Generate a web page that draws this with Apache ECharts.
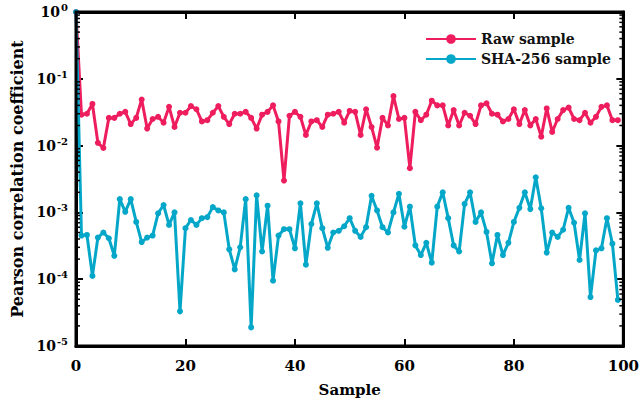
<!DOCTYPE html>
<html>
<head>
<meta charset="utf-8">
<script src="https://cdn.jsdelivr.net/npm/echarts@6/dist/echarts.min.js"></script>
<style>html,body{margin:0;padding:0;background:#fff;overflow:hidden}#c{width:642px;height:403px}</style>
</head>
<body>
<div id="c"></div>
<script>
const samples = [0,1,2,3,4,5,6,7,8,9,10,11,12,13,14,15,16,17,18,19,20,21,22,23,24,25,26,27,28,29,30,31,32,33,34,35,36,37,38,39,40,41,42,43,44,45,46,47,48,49,50,51,52,53,54,55,56,57,58,59,60,61,62,63,64,65,66,67,68,69,70,71,72,73,74,75,76,77,78,79,80,81,82,83,84,85,86,87,88,89,90,91,92,93,94,95,96,97,98,99];
const rawSample = [1,0.029,0.030,0.042,0.011,0.0092,0.026,0.026,0.030,0.032,0.021,0.026,0.049,0.018,0.025,0.027,0.022,0.038,0.019,0.031,0.031,0.039,0.035,0.023,0.024,0.031,0.039,0.027,0.021,0.030,0.030,0.032,0.026,0.018,0.029,0.032,0.040,0.023,0.0030,0.028,0.032,0.027,0.0144,0.023,0.024,0.019,0.029,0.030,0.032,0.022,0.033,0.032,0.0144,0.035,0.019,0.0093,0.026,0.020,0.055,0.025,0.026,0.0046,0.032,0.024,0.029,0.047,0.040,0.040,0.020,0.034,0.020,0.031,0.028,0.021,0.040,0.043,0.030,0.029,0.023,0.025,0.035,0.021,0.034,0.020,0.025,0.0136,0.036,0.016,0.025,0.034,0.037,0.025,0.024,0.031,0.022,0.027,0.038,0.040,0.024,0.024];
const shaSample = [1,4.5e-4,4.6e-4,1.12e-4,4.2e-4,5.0e-4,4.1e-4,2.24e-4,1.58e-3,1.02e-3,1.58e-3,7.2e-4,3.6e-4,4.2e-4,4.5e-4,9.7e-4,1.29e-3,6.5e-4,1.0e-3,3.3e-5,5.8e-4,7.7e-4,6.5e-4,8.2e-4,8.5e-4,1.2e-3,1.07e-3,1.0e-3,2.8e-4,1.4e-4,3.0e-4,1.58e-3,1.9e-5,1.8e-3,2.6e-4,1.26e-3,9.5e-5,4.5e-4,5.6e-4,5.6e-4,2.9e-4,1.37e-3,1.65e-4,6.7e-4,1.37e-3,5.8e-4,2.95e-4,5.0e-4,5.3e-4,6.2e-4,8.2e-4,5.3e-4,4.3e-4,6.0e-4,1.77e-3,1.07e-3,6.0e-4,5.0e-4,1.0e-3,1.9e-3,6.1e-4,1.22e-3,3.2e-4,2.3e-4,3.5e-4,1.77e-4,1.22e-3,2.0e-3,8.2e-4,3.2e-4,2.6e-4,1.34e-3,2.0e-3,7.2e-4,1.0e-3,5.1e-4,1.73e-4,4.6e-4,2.3e-4,3.5e-4,7.2e-4,1.17e-3,2.0e-3,1.12e-3,3.35e-3,1.15e-3,2.5e-4,5.0e-4,4.3e-4,5.5e-4,1.17e-3,7.0e-4,1.94e-4,9.7e-4,5.4e-5,2.7e-4,2.9e-4,8.2e-4,3.4e-4,4.9e-5];
const xTicks = [0,20,40,60,80,100];
const yDecades = [1e-5,1e-4,1e-3,1e-2,1e-1,1];
const minorTickValues = [2e-5,3e-5,4e-5,5e-5,6e-5,7e-5,8e-5,9e-5,2e-4,3e-4,4e-4,5e-4,6e-4,7e-4,8e-4,9e-4,2e-3,3e-3,4e-3,5e-3,6e-3,7e-3,8e-3,9e-3,2e-2,3e-2,4e-2,5e-2,6e-2,7e-2,8e-2,9e-2,0.2,0.3,0.4,0.5,0.6,0.7,0.8,0.9];
const seriesNames = ['Raw sample','SHA-256 sample'];
const colors = ['#EE1D5E','#05A7C9'];

const X_MIN = xTicks[0], X_MAX = xTicks[xTicks.length-1];
const Y_MIN = yDecades[0], Y_MAX = yDecades[yDecades.length-1];
const FONT = '"DejaVu Serif", "Liberation Serif", serif';
const AX = '#000';
const axisLineStyle = {onZero:false, lineStyle:{color:AX,width:3}};
const tickStyle = {inside:true,length:7,lineStyle:{color:AX,width:2}};

const chart = echarts.init(document.getElementById('c'), null, {renderer:'svg', width:642, height:403});
const option = {
  animation:false,
  backgroundColor:'#fff',
  grid:{left:76,right:16,top:12,bottom:57},
  legend:{
    data:seriesNames, orient:'vertical', left:420, top:27,
    itemWidth:50, itemHeight:12, itemGap:6,
    textStyle:{fontFamily:FONT,fontWeight:'bold',fontSize:14,color:'#111'}
  },
  xAxis:[{
    type:'value', min:X_MIN, max:X_MAX, interval:20,
    axisLine:axisLineStyle, axisTick:tickStyle, splitLine:{show:false},
    axisLabel:{fontFamily:FONT,fontWeight:'bold',fontSize:15,color:AX,margin:12},
    name:'Sample', nameLocation:'middle', nameGap:36,
    nameTextStyle:{fontFamily:FONT,fontWeight:'bold',fontSize:15,color:AX}
  },{
    type:'value', position:'top', min:X_MIN, max:X_MAX, interval:20,
    axisLine:axisLineStyle, axisTick:tickStyle, splitLine:{show:false},
    axisLabel:{show:false}
  }],
  yAxis:[{
    type:'log', logBase:10, min:Y_MIN, max:Y_MAX,
    axisLine:axisLineStyle, axisTick:tickStyle, splitLine:{show:false},
    axisLabel:{
      margin:8,
      formatter:function(v){return '{b|10}{s|'+Math.round(Math.log10(v))+'}';},
      rich:{
        b:{fontFamily:FONT,fontWeight:'bold',fontSize:14,color:AX},
        s:{fontFamily:FONT,fontWeight:'bold',fontSize:10,color:AX,padding:[0,0,9,1]}
      }
    },
    name:'Pearson correlation coefficient', nameLocation:'middle', nameGap:50,
    nameTextStyle:{fontFamily:FONT,fontWeight:'bold',fontSize:16,color:AX}
  },{
    type:'log', logBase:10, min:Y_MIN, max:Y_MAX, position:'right',
    axisLine:axisLineStyle, axisTick:tickStyle, splitLine:{show:false},
    axisLabel:{show:false}
  }],
  series:[{
    name:seriesNames[0], type:'line', data:samples.map((s,i)=>[s,rawSample[i]]),
    color:colors[0], symbol:'circle', symbolSize:6, showSymbol:true,
    lineStyle:{width:3}, z:3
  },{
    name:seriesNames[1], type:'line', data:samples.map((s,i)=>[s,shaSample[i]]),
    color:colors[1], symbol:'circle', symbolSize:6, showSymbol:true,
    lineStyle:{width:3}, z:4
  }]
};
chart.setOption(option);

const toPx = (x, y) => chart.convertToPixel({gridIndex:0}, [x, y]);
const tl = toPx(X_MIN, Y_MAX), br = toPx(X_MAX, Y_MIN);
const L = tl[0], T = tl[1], R = br[0], B = br[1];
const g = [];
g.push({type:'rect', shape:{x:L, y:T, width:R-L, height:B-T}, style:{fill:'none', stroke:AX, lineWidth:3}, z:100, silent:true});
minorTickValues.forEach(v => {
  const py = toPx(X_MIN, v)[1];
  g.push({type:'line', shape:{x1:L, y1:py, x2:L+4, y2:py}, style:{stroke:AX, lineWidth:1.5}, z:100, silent:true});
  g.push({type:'line', shape:{x1:R-4, y1:py, x2:R, y2:py}, style:{stroke:AX, lineWidth:1.5}, z:100, silent:true});
});
chart.setOption({graphic:{elements:g}});
</script>
</body>
</html>
